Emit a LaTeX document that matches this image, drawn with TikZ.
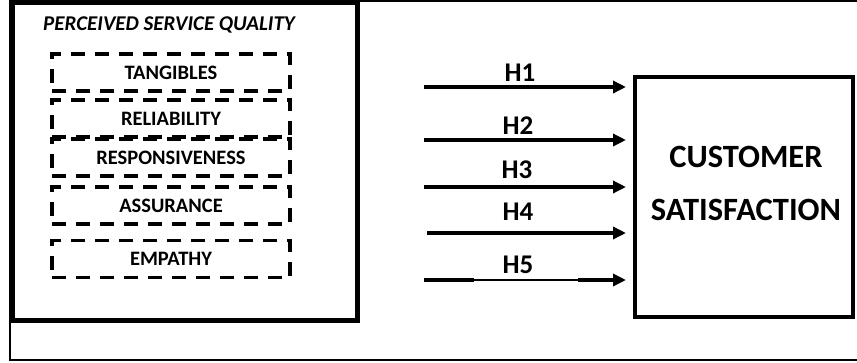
\documentclass[tikz,border=0pt]{standalone}
\usepackage{fontspec}
\setmainfont{Carlito}
\usetikzlibrary{arrows.meta}
\tikzset{
  dimbox/.style={draw, line width=3.5pt, dash pattern=on 14pt off 10pt, minimum width=238pt, minimum height=37pt, inner sep=0pt, font=\bfseries\fontsize{20.5}{23}\selectfont},
  harrow/.style={line width=3.5pt, -{Triangle[length=13pt,width=12pt]}, shorten >=7pt},
  hlabel/.style={font=\bfseries\fontsize{27}{30}\selectfont, inner sep=0pt},
}
\begin{document}
\begin{tikzpicture}[x=1pt,y=-1pt]
\useasboundingbox (0,0) rectangle (857,362);
% outer frame
\draw[line width=2.5pt] (858,1) -- (10,1) -- (10,360) -- (858,360);
% left box
\node[draw, line width=5.5pt, minimum width=345pt, minimum height=318pt, inner sep=0pt] (pq) at (185,161.5) {};
\node[font=\bfseries\itshape\fontsize{21}{24}\selectfont, inner sep=0pt] (title) at (169,25) {PERCEIVED SERVICE QUALITY};
\node[dimbox] (tan) at (171,72.5) {TANGIBLES};
\node[dimbox] (rel) at (171,118.5) {RELIABILITY};
\node[dimbox] (res) at (171,157.5) {RESPONSIVENESS};
\node[dimbox] (ass) at (171,205.5) {ASSURANCE};
\node[dimbox] (emp) at (171,259) {EMPATHY};
% customer satisfaction
\node[draw, line width=4pt, minimum width=218pt, minimum height=240pt, inner sep=0pt] (cs) at (744,197) {};
\node[align=center, inner sep=0pt, font=\bfseries\fontsize{32.5}{53}\selectfont] (cstext) at (746,183) {CUSTOMER\\SATISFACTION};
% arrows
\coordinate (s1) at (424,87);
\coordinate (s2) at (424,140);
\coordinate (s3) at (424,187);
\coordinate (s4) at (427,233);
\coordinate (s5) at (424,280);
\draw[harrow] (s1) -- (s1 -| cs.west);
\draw[harrow] (s2) -- (s2 -| cs.west);
\draw[harrow] (s3) -- (s3 -| cs.west);
\draw[harrow] (s4) -- (s4 -| cs.west);
\coordinate (m1) at (474,280);
\coordinate (m2) at (578,280);
\draw[line width=3.5pt] (s5) -- (m1);
\draw[line width=1.2pt] (m1) -- (m2);
\draw[harrow] (m2) -- (s5 -| cs.west);
\node[hlabel] (h1) at (520,73) {H1};
\node[hlabel] (h2) at (518,126) {H2};
\node[hlabel] (h3) at (517,170) {H3};
\node[hlabel] (h4) at (518,212) {H4};
\node[hlabel] (h5) at (518,265) {H5};
\end{tikzpicture}
\end{document}
